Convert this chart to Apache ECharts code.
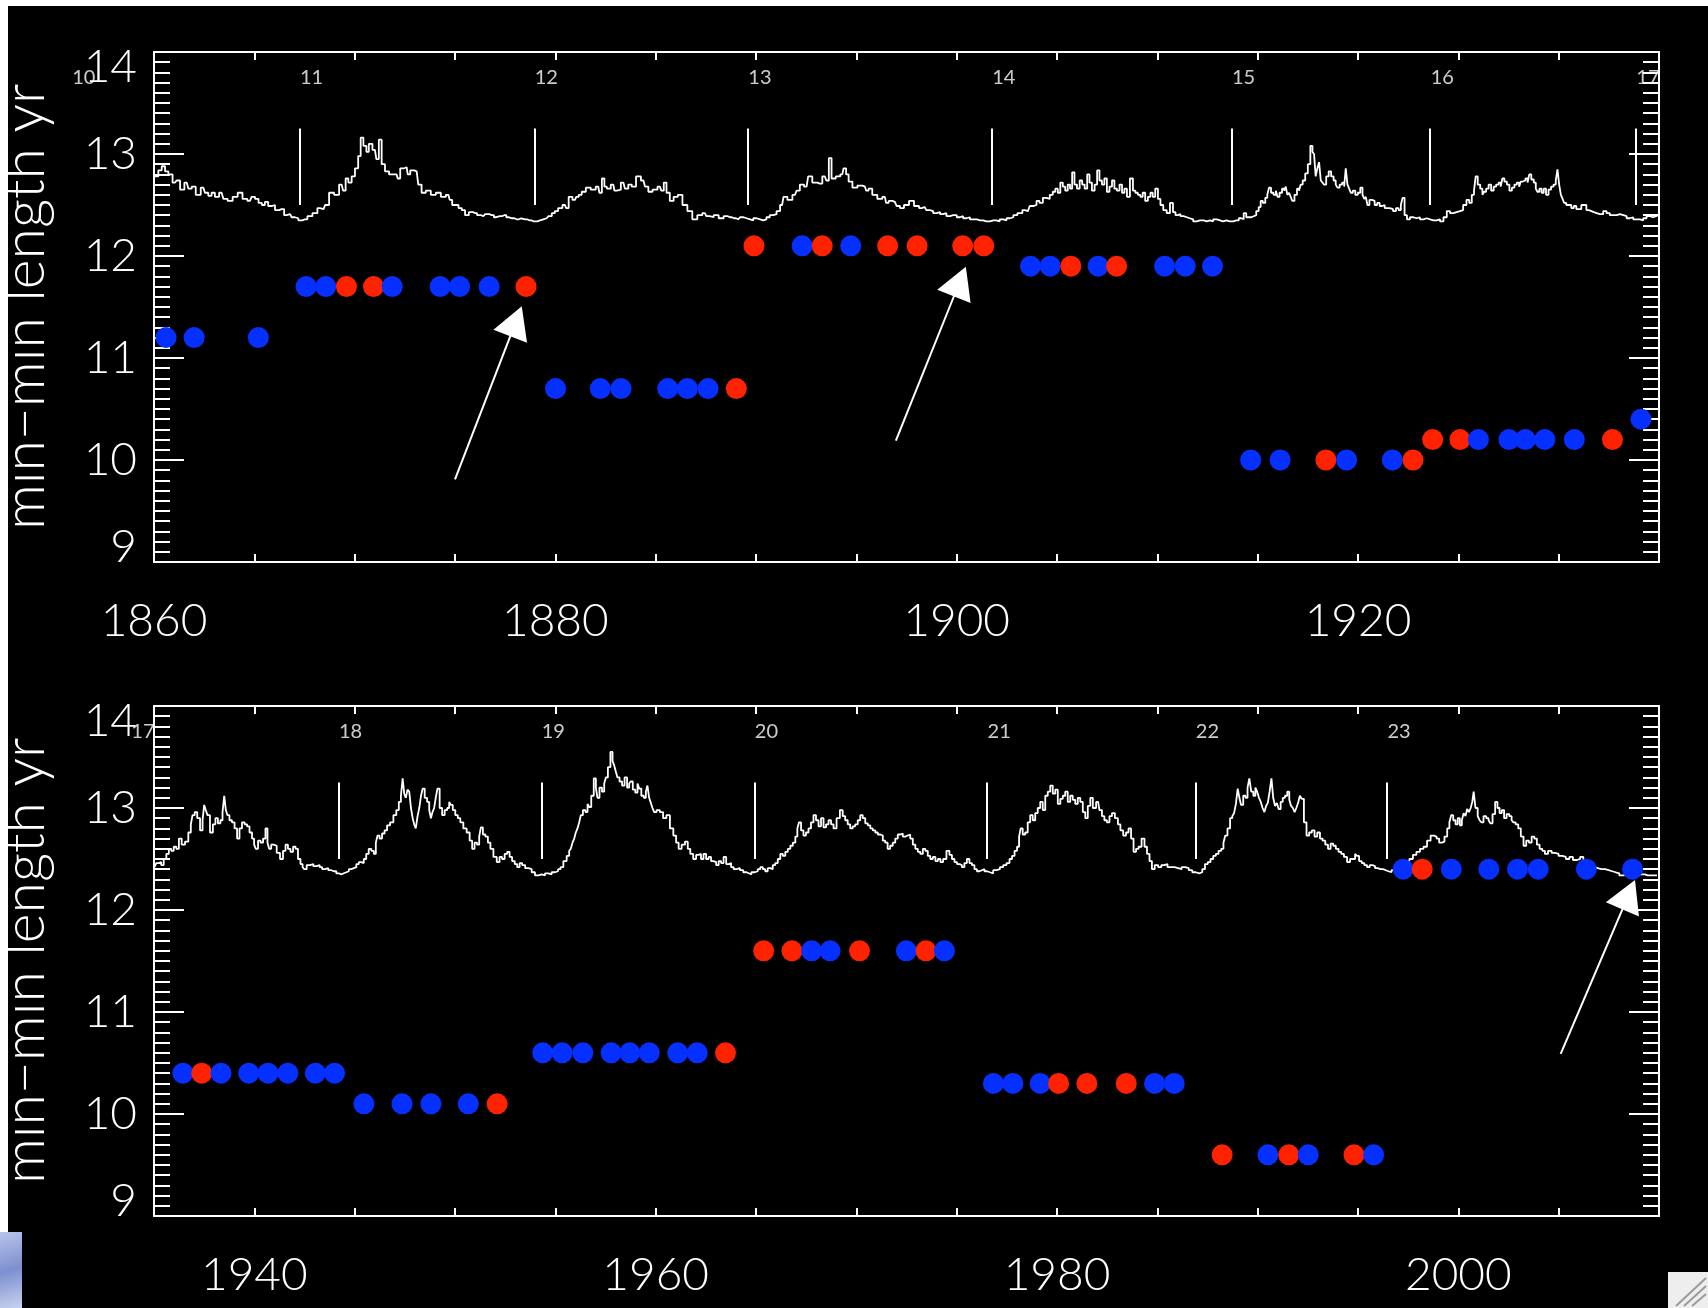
<!DOCTYPE html>
<html>
<head>
<meta charset="utf-8">
<script src="https://cdn.jsdelivr.net/npm/echarts@6/dist/echarts.min.js"></script>
<style>
  html, body { margin: 0; padding: 0; background: #000; }
  #chart { width: 1708px; height: 1308px; }
</style>
</head>
<body>
<div id="chart"></div>
<script>
// ---------------- data ----------------
// solar cycle numbers and the year each cycle began (minimum)
const cycleNumbers = [10, 11, 12, 13, 14, 15, 16, 17, 18, 19, 20, 21, 22, 23];
const cycleStarts  = [1855.9, 1867.25, 1878.95, 1889.6, 1901.75, 1913.7, 1923.6,
                      1933.85, 1944.2, 1954.3, 1964.92, 1976.52, 1986.9, 1996.45];

// tick labels of the two time axes
const yearLabelsEarly = [1860, 1880, 1900, 1920];
const yearLabelsLate  = [1940, 1960, 1980, 2000];
const lengthLabels    = [9, 10, 11, 12, 13, 14];

// activity trace, 1860-1935 [year, value]
const curveEarly = [
[1860.0,12.8],[1860.13,12.78],[1860.3,12.84],[1860.47,12.88],[1860.63,12.83],[1860.8,12.8],[1861.05,12.72],[1861.2,12.74],[1861.4,12.65],[1861.63,12.72],[1861.8,12.66],[1861.96,12.68],[1862.2,12.6],[1862.46,12.67],[1862.62,12.62],[1862.79,12.59],[1862.95,12.62],[1863.12,12.58],[1863.37,12.62],[1863.55,12.56],[1863.79,12.54],[1864.05,12.58],[1864.29,12.62],[1864.53,12.56],[1864.78,12.54],[1864.95,12.58],[1865.12,12.56],[1865.3,12.52],[1865.45,12.5],[1865.6,12.53],[1865.78,12.49],[1865.95,12.5],[1866.11,12.45],[1866.36,12.46],[1866.61,12.4],[1866.78,12.41],[1866.94,12.38],[1867.1,12.37],[1867.28,12.35],[1867.52,12.36],[1867.77,12.39],[1868.02,12.42],[1868.27,12.47],[1868.45,12.46],[1868.6,12.5],[1868.85,12.62],[1869.1,12.6],[1869.35,12.7],[1869.5,12.64],[1869.6,12.76],[1869.77,12.72],[1869.93,12.78],[1870.1,12.86],[1870.25,12.98],[1870.35,13.16],[1870.52,13.08],[1870.65,13.02],[1870.76,13.1],[1871.01,13.04],[1871.15,12.95],[1871.26,13.14],[1871.43,12.9],[1871.59,12.83],[1871.84,12.8],[1872.09,12.8],[1872.2,12.76],[1872.34,12.86],[1872.59,12.87],[1872.7,12.8],[1872.84,12.84],[1873.09,12.83],[1873.25,12.7],[1873.42,12.62],[1873.67,12.64],[1873.92,12.6],[1874.17,12.62],[1874.42,12.58],[1874.67,12.6],[1874.8,12.55],[1874.92,12.5],[1875.1,12.5],[1875.25,12.47],[1875.42,12.45],[1875.58,12.4],[1875.8,12.43],[1876.0,12.42],[1876.2,12.4],[1876.41,12.39],[1876.6,12.41],[1876.83,12.4],[1877.05,12.38],[1877.24,12.39],[1877.45,12.4],[1877.66,12.38],[1877.85,12.37],[1878.07,12.36],[1878.3,12.37],[1878.49,12.36],[1878.7,12.35],[1878.9,12.34],[1879.1,12.34],[1879.24,12.35],[1879.4,12.36],[1879.57,12.37],[1879.75,12.39],[1879.9,12.42],[1880.05,12.44],[1880.23,12.47],[1880.48,12.5],[1880.6,12.47],[1880.73,12.58],[1880.98,12.55],[1881.1,12.58],[1881.23,12.6],[1881.4,12.63],[1881.64,12.67],[1881.89,12.65],[1882.14,12.68],[1882.25,12.62],[1882.39,12.76],[1882.5,12.68],[1882.64,12.66],[1882.89,12.7],[1883.0,12.64],[1883.14,12.65],[1883.39,12.72],[1883.55,12.66],[1883.72,12.7],[1883.9,12.68],[1884.14,12.78],[1884.39,12.74],[1884.55,12.68],[1884.72,12.63],[1884.97,12.65],
[1885.21,12.68],[1885.35,12.64],[1885.46,12.72],[1885.62,12.62],[1885.79,12.54],[1886.0,12.58],[1886.21,12.6],[1886.46,12.5],[1886.7,12.44],[1886.95,12.36],[1887.2,12.4],[1887.45,12.42],[1887.6,12.39],[1887.78,12.38],[1888.0,12.4],[1888.28,12.37],[1888.5,12.39],[1888.7,12.38],[1888.9,12.37],[1889.11,12.36],[1889.3,12.38],[1889.45,12.37],[1889.62,12.36],[1889.78,12.35],[1889.95,12.37],[1890.11,12.36],[1890.3,12.35],[1890.44,12.36],[1890.6,12.38],[1890.77,12.4],[1890.95,12.41],[1891.1,12.44],[1891.3,12.5],[1891.44,12.58],[1891.69,12.55],[1891.94,12.6],[1892.1,12.64],[1892.27,12.7],[1892.52,12.68],[1892.68,12.78],[1892.93,12.72],[1893.18,12.71],[1893.43,12.78],[1893.58,12.74],[1893.68,12.96],[1893.85,12.76],[1894.1,12.78],[1894.3,12.8],[1894.43,12.86],[1894.55,12.8],[1894.68,12.73],[1894.93,12.67],[1895.18,12.69],[1895.43,12.68],[1895.55,12.64],[1895.67,12.66],[1895.92,12.6],[1896.17,12.56],[1896.42,12.58],[1896.55,12.52],[1896.67,12.54],[1896.92,12.53],[1897.1,12.49],[1897.25,12.47],[1897.5,12.5],[1897.75,12.54],[1898.0,12.49],[1898.25,12.47],[1898.4,12.48],[1898.58,12.45],[1898.75,12.44],[1898.91,12.42],[1899.1,12.43],[1899.25,12.41],[1899.4,12.42],[1899.58,12.39],[1899.75,12.4],[1899.91,12.4],[1900.1,12.38],[1900.24,12.39],[1900.4,12.37],[1900.57,12.38],[1900.75,12.36],[1900.91,12.36],[1901.1,12.35],[1901.24,12.35],[1901.4,12.34],[1901.57,12.34],[1901.75,12.35],[1901.9,12.35],[1902.05,12.34],[1902.24,12.36],[1902.4,12.35],[1902.57,12.37],[1902.75,12.38],[1902.9,12.4],[1903.15,12.42],[1903.4,12.45],[1903.55,12.44],[1903.73,12.49],[1903.9,12.5],[1904.06,12.54],[1904.2,12.52],[1904.39,12.57],[1904.55,12.56],[1904.73,12.6],[1904.85,12.63],[1904.98,12.66],[1905.1,12.62],[1905.23,12.72],[1905.35,12.68],[1905.47,12.64],[1905.6,12.7],[1905.7,12.66],[1905.81,12.82],[1905.93,12.7],[1906.06,12.66],[1906.2,12.74],[1906.31,12.7],[1906.45,12.66],[1906.56,12.8],[1906.68,12.72],[1906.8,12.64],[1906.95,12.7],[1907.05,12.84],[1907.18,12.74],[1907.3,12.7],[1907.42,12.76],[1907.55,12.63],[1907.68,12.68],[1907.8,12.74],[1907.92,12.66],[1908.05,12.64],[1908.18,12.7],[1908.3,12.62],[1908.42,12.66],[1908.55,12.58],[1908.72,12.76],[1908.85,12.64],[1908.96,12.62],[1909.1,12.6],[1909.21,12.58],[1909.33,12.62],[1909.46,12.54],[1909.6,12.58],[1909.71,12.62],[1909.83,12.58],[1909.96,12.66],[1910.1,12.56],[1910.21,12.5],
[1910.38,12.45],[1910.55,12.42],[1910.71,12.52],[1910.85,12.43],[1910.96,12.4],[1911.1,12.41],[1911.21,12.39],[1911.4,12.38],[1911.54,12.37],[1911.7,12.36],[1911.87,12.34],[1912.05,12.35],[1912.21,12.35],[1912.4,12.34],[1912.54,12.35],[1912.7,12.34],[1912.87,12.36],[1913.05,12.35],[1913.2,12.34],[1913.35,12.35],[1913.53,12.34],[1913.7,12.34],[1913.87,12.35],[1914.0,12.35],[1914.12,12.37],[1914.25,12.36],[1914.36,12.42],[1914.5,12.38],[1914.61,12.38],[1914.75,12.39],[1914.86,12.4],[1915.0,12.44],[1915.1,12.48],[1915.2,12.54],[1915.32,12.52],[1915.44,12.57],[1915.52,12.6],[1915.61,12.67],[1915.72,12.62],[1915.86,12.6],[1915.95,12.64],[1916.03,12.58],[1916.15,12.62],[1916.28,12.66],[1916.36,12.64],[1916.44,12.68],[1916.52,12.6],[1916.61,12.62],[1916.68,12.58],[1916.77,12.54],[1916.9,12.6],[1917.02,12.66],[1917.1,12.64],[1917.19,12.7],[1917.3,12.74],[1917.44,12.81],[1917.56,12.9],[1917.69,13.08],[1917.77,13.02],[1917.85,13.0],[1917.93,12.78],[1918.02,12.86],[1918.1,12.92],[1918.19,12.74],[1918.27,12.72],[1918.35,12.7],[1918.48,12.78],[1918.6,12.83],[1918.72,12.78],[1918.85,12.74],[1918.93,12.7],[1919.02,12.67],[1919.15,12.7],[1919.27,12.72],[1919.35,12.68],[1919.43,12.86],[1919.52,12.7],[1919.6,12.66],[1919.68,12.62],[1919.8,12.64],[1919.93,12.6],[1920.05,12.62],[1920.18,12.67],[1920.27,12.6],[1920.35,12.56],[1920.43,12.58],[1920.51,12.5],[1920.63,12.55],[1920.76,12.54],[1920.9,12.5],[1921.01,12.52],[1921.15,12.49],[1921.26,12.5],[1921.4,12.47],[1921.51,12.47],[1921.65,12.46],[1921.84,12.44],[1921.95,12.47],[1922.09,12.45],[1922.18,12.5],[1922.26,12.57],[1922.38,12.4],[1922.5,12.36],[1922.68,12.38],[1922.84,12.37],[1923.0,12.38],[1923.17,12.36],[1923.35,12.37],[1923.5,12.36],[1923.68,12.35],[1923.83,12.35],[1924.0,12.36],[1924.17,12.34],[1924.35,12.38],[1924.5,12.44],[1924.67,12.42],[1924.83,12.43],[1925.0,12.44],[1925.16,12.45],[1925.32,12.5],[1925.49,12.55],[1925.6,12.52],[1925.74,12.6],[1925.82,12.64],[1925.91,12.78],[1926.02,12.7],[1926.16,12.66],[1926.24,12.6],[1926.32,12.63],[1926.45,12.66],[1926.57,12.7],[1926.7,12.64],[1926.82,12.68],[1926.95,12.7],[1927.07,12.72],[1927.15,12.68],[1927.24,12.76],[1927.35,12.73],[1927.49,12.7],[1927.6,12.64],[1927.74,12.67],[1927.85,12.7],[1927.99,12.72],[1928.07,12.68],[1928.15,12.73],[1928.28,12.74],[1928.4,12.76],[1928.5,12.72],[1928.57,12.8],[1928.7,12.75],[1928.82,12.72],[1928.9,12.66],[1928.98,12.63],[1929.1,12.66],[1929.2,12.62],[1929.31,12.66],[1929.43,12.6],[1929.56,12.65],[1929.68,12.68],[1929.81,12.7],[1929.9,12.74],[1929.98,12.85],[1930.07,12.7],[1930.15,12.6],[1930.24,12.56],[1930.31,12.52],[1930.45,12.5],[1930.56,12.5],[1930.7,12.47],[1930.81,12.49],[1930.95,12.46],[1931.06,12.46],[1931.2,12.5],[1931.31,12.5],[1931.45,12.45],[1931.56,12.44],[1931.7,12.43],[1931.81,12.42],[1931.98,12.41],[1932.14,12.41],[1932.3,12.44],[1932.47,12.42],[1932.63,12.4],[1932.8,12.4],[1932.97,12.41],[1933.14,12.4],[1933.3,12.39],[1933.47,12.37],[1933.63,12.38],[1933.8,12.36],[1933.97,12.36],[1934.13,12.35],[1934.3,12.37],[1934.46,12.39],[1934.62,12.38],[1934.79,12.39],[1934.9,12.4],[1935.04,12.4]
];

// activity trace, 1935-2010 [year, value]
const curveLate = [
[1935.0,12.44],[1935.05,12.42],[1935.18,12.46],[1935.3,12.47],[1935.42,12.44],[1935.55,12.5],[1935.68,12.55],[1935.8,12.6],[1935.92,12.58],[1936.05,12.62],[1936.18,12.6],[1936.3,12.7],[1936.46,12.64],[1936.63,12.67],[1936.79,12.76],[1936.88,12.84],[1936.96,12.93],[1937.1,12.96],[1937.21,12.9],[1937.38,12.78],[1937.46,12.88],[1937.54,13.03],[1937.62,12.98],[1937.71,12.93],[1937.87,12.76],[1938.0,12.84],[1938.12,12.9],[1938.25,12.85],[1938.37,12.88],[1938.46,12.96],[1938.54,13.12],[1938.62,12.98],[1938.7,12.93],[1938.82,12.88],[1938.95,12.86],[1939.08,12.8],[1939.2,12.7],[1939.32,12.8],[1939.45,12.86],[1939.58,12.84],[1939.7,12.82],[1939.82,12.76],[1939.95,12.7],[1940.03,12.64],[1940.12,12.6],[1940.25,12.68],[1940.37,12.66],[1940.5,12.7],[1940.61,12.8],[1940.7,12.66],[1940.78,12.6],[1940.9,12.64],[1941.03,12.63],[1941.2,12.56],[1941.36,12.5],[1941.5,12.58],[1941.61,12.64],[1941.74,12.6],[1941.86,12.57],[1942.0,12.62],[1942.11,12.6],[1942.24,12.5],[1942.36,12.45],[1942.45,12.42],[1942.52,12.4],[1942.7,12.44],[1942.86,12.45],[1943.02,12.43],[1943.19,12.44],[1943.32,12.42],[1943.44,12.4],[1943.6,12.41],[1943.77,12.39],[1943.9,12.38],[1944.02,12.38],[1944.15,12.36],[1944.27,12.35],[1944.4,12.36],[1944.52,12.37],[1944.65,12.38],[1944.77,12.4],[1944.9,12.41],[1945.02,12.42],[1945.15,12.45],[1945.27,12.47],[1945.4,12.46],[1945.51,12.5],[1945.64,12.55],[1945.76,12.6],[1945.9,12.58],[1946.01,12.55],[1946.1,12.66],[1946.18,12.73],[1946.3,12.7],[1946.43,12.75],[1946.55,12.78],[1946.68,12.83],[1946.85,12.86],[1947.01,12.93],[1947.14,12.98],[1947.26,13.06],[1947.35,13.12],[1947.43,13.29],[1947.51,13.14],[1947.59,13.1],[1947.68,13.18],[1947.76,13.16],[1947.85,13.0],[1947.93,12.9],[1948.0,12.84],[1948.09,12.8],[1948.18,12.92],[1948.26,13.0],[1948.35,13.12],[1948.43,13.19],[1948.55,13.1],[1948.67,13.06],[1948.76,12.98],[1948.84,12.9],[1948.92,12.96],[1949.0,13.0],[1949.08,13.1],[1949.17,13.19],[1949.3,13.0],[1949.42,12.93],[1949.55,12.98],[1949.67,13.0],[1949.75,13.06],[1949.83,13.03],[1949.95,12.98],[1950.08,12.93],[1950.2,12.9],[1950.33,12.86],[1950.5,12.8],[1950.66,12.76],[1950.8,12.68],[1950.91,12.6],[1951.04,12.66],[1951.16,12.64],[1951.25,12.72],[1951.33,12.81],[1951.45,12.74],[1951.58,12.72],[1951.7,12.66],[1951.83,12.6],[1952.0,12.52],[1952.16,12.47],[1952.28,12.52],[1952.41,12.5],[1952.54,12.55],[1952.66,12.57],[1952.78,12.52],[1952.91,12.48],[1953.04,12.45],[1953.16,12.42],[1953.28,12.46],[1953.41,12.44],[1953.58,12.41],[1953.74,12.4],[1953.9,12.37],[1954.07,12.34],[1954.24,12.35],[1954.4,12.34],[1954.57,12.36],[1954.73,12.35],[1954.9,12.37],[1955.07,12.38],[1955.2,12.4],[1955.32,12.42],[1955.48,12.48],[1955.65,12.53],[1955.73,12.58],[1955.81,12.6],[1955.9,12.66],[1955.98,12.7],[1956.06,12.76],[1956.15,12.8],[1956.23,12.86],[1956.31,12.93],[1956.44,12.98],[1956.56,12.96],[1956.65,13.04],[1956.73,13.01],[1956.85,13.12],[1956.98,13.29],[1957.06,13.2],[1957.14,13.1],[1957.26,13.2],[1957.39,13.16],[1957.48,13.24],[1957.56,13.3],[1957.68,13.4],[1957.81,13.55],[1957.89,13.46],[1957.97,13.42],[1958.05,13.36],[1958.14,13.3],[1958.26,13.26],[1958.39,13.22],[1958.51,13.3],[1958.64,13.2],[1958.72,13.24],[1958.8,13.26],[1958.92,13.18],[1959.05,13.15],[1959.14,13.24],[1959.22,13.19],[1959.35,13.12],[1959.47,13.1],[1959.55,13.16],[1959.63,13.22],[1959.72,13.1],[1959.8,13.05],[1959.88,13.0],[1959.97,12.96],
[1960.12,12.98],[1960.29,12.96],[1960.45,12.9],[1960.62,12.93],[1960.8,12.8],[1960.96,12.73],[1961.08,12.66],[1961.21,12.6],[1961.38,12.64],[1961.54,12.67],[1961.66,12.6],[1961.79,12.55],[1961.95,12.5],[1962.08,12.54],[1962.2,12.55],[1962.32,12.5],[1962.45,12.55],[1962.58,12.5],[1962.7,12.52],[1962.82,12.48],[1962.95,12.47],[1963.08,12.44],[1963.2,12.48],[1963.32,12.46],[1963.45,12.52],[1963.58,12.45],[1963.7,12.46],[1963.82,12.42],[1963.95,12.4],[1964.12,12.41],[1964.28,12.39],[1964.45,12.37],[1964.6,12.36],[1964.69,12.35],[1964.85,12.37],[1965.03,12.38],[1965.15,12.4],[1965.28,12.42],[1965.4,12.4],[1965.52,12.38],[1965.65,12.41],[1965.77,12.4],[1965.9,12.44],[1966.02,12.46],[1966.15,12.5],[1966.27,12.55],[1966.4,12.53],[1966.52,12.57],[1966.65,12.6],[1966.77,12.63],[1966.9,12.66],[1967.02,12.72],[1967.1,12.8],[1967.19,12.86],[1967.3,12.78],[1967.43,12.73],[1967.55,12.76],[1967.68,12.8],[1967.8,12.86],[1967.93,12.93],[1968.05,12.88],[1968.18,12.82],[1968.3,12.9],[1968.43,12.81],[1968.55,12.84],[1968.68,12.88],[1968.8,12.84],[1968.93,12.8],[1969.1,12.9],[1969.26,12.98],[1969.38,12.92],[1969.51,12.88],[1969.63,12.84],[1969.76,12.8],[1969.88,12.82],[1970.01,12.84],[1970.13,12.88],[1970.26,12.93],[1970.38,12.9],[1970.51,12.85],[1970.63,12.83],[1970.76,12.8],[1970.88,12.78],[1971.01,12.76],[1971.13,12.74],[1971.26,12.73],[1971.38,12.68],[1971.5,12.66],[1971.62,12.6],[1971.75,12.63],[1971.88,12.66],[1972.0,12.7],[1972.13,12.74],[1972.25,12.75],[1972.38,12.72],[1972.5,12.73],[1972.62,12.74],[1972.75,12.7],[1972.88,12.64],[1973.0,12.6],[1973.13,12.57],[1973.25,12.55],[1973.38,12.6],[1973.5,12.58],[1973.62,12.53],[1973.75,12.5],[1973.88,12.52],[1974.0,12.48],[1974.13,12.5],[1974.25,12.47],[1974.4,12.5],[1974.58,12.58],[1974.7,12.54],[1974.83,12.5],[1974.95,12.47],[1975.08,12.45],[1975.2,12.44],[1975.32,12.42],[1975.45,12.46],[1975.57,12.5],[1975.7,12.46],[1975.82,12.44],[1975.95,12.4],[1976.07,12.38],[1976.2,12.39],[1976.32,12.4],[1976.45,12.38],[1976.57,12.37],[1976.74,12.36],[1976.9,12.39],[1977.07,12.4],[1977.24,12.42],[1977.4,12.44],[1977.57,12.46],[1977.7,12.5],[1977.82,12.53],[1977.95,12.58],[1978.07,12.62],[1978.15,12.72],[1978.23,12.8],[1978.35,12.74],[1978.48,12.76],[1978.6,12.86],[1978.73,12.93],[1978.85,12.88],[1978.98,12.95],[1979.1,13.0],[1979.23,13.06],[1979.35,12.98],[1979.48,13.12],[1979.6,13.16],[1979.73,13.22],[1979.85,13.14],[1979.98,13.18],[1980.1,13.04],[1980.23,13.09],[1980.35,13.12],[1980.47,13.16],[1980.6,13.06],[1980.72,13.12],[1980.85,13.08],[1980.97,13.04],[1981.1,13.1],[1981.22,13.06],[1981.35,12.96],[1981.47,12.9],[1981.6,13.02],[1981.72,13.1],[1981.85,13.0],[1982.05,13.06],[1982.18,12.98],[1982.3,12.92],[1982.42,12.88],[1982.55,12.86],[1982.68,12.92],[1982.8,12.95],[1982.97,12.9],[1983.1,12.84],[1983.22,12.78],[1983.38,12.73],[1983.5,12.76],[1983.63,12.8],[1983.75,12.7],[1983.88,12.57],[1984.0,12.6],[1984.13,12.62],[1984.3,12.7],[1984.42,12.62],[1984.55,12.55],[1984.67,12.48],[1984.79,12.4],[1984.95,12.44],[1985.13,12.42],
[1985.27,12.44],[1985.41,12.45],[1985.6,12.42],[1985.77,12.42],[1985.95,12.41],[1986.12,12.4],[1986.3,12.42],[1986.48,12.41],[1986.65,12.39],[1986.83,12.37],[1987.0,12.36],[1987.18,12.37],[1987.3,12.4],[1987.45,12.45],[1987.58,12.47],[1987.72,12.5],[1987.85,12.53],[1987.98,12.55],[1988.12,12.58],[1988.25,12.6],[1988.34,12.66],[1988.43,12.73],[1988.56,12.8],[1988.69,12.9],[1988.78,12.92],[1988.87,12.95],[1988.96,13.04],[1989.05,13.19],[1989.13,13.1],[1989.22,13.03],[1989.34,13.12],[1989.45,13.1],[1989.54,13.2],[1989.63,13.29],[1989.73,13.16],[1989.84,13.12],[1989.93,13.2],[1990.02,13.16],[1990.11,13.1],[1990.2,13.06],[1990.29,13.0],[1990.38,12.96],[1990.46,13.02],[1990.55,13.05],[1990.64,13.16],[1990.73,13.29],[1990.82,13.1],[1990.91,13.02],[1991.0,13.05],[1991.09,12.99],[1991.2,13.06],[1991.3,13.1],[1991.42,13.12],[1991.53,13.16],[1991.62,13.08],[1991.71,13.02],[1991.8,13.0],[1991.88,12.96],[1991.97,13.0],[1992.06,13.05],[1992.15,13.12],[1992.24,13.09],[1992.37,12.86],[1992.5,12.73],[1992.63,12.76],[1992.77,12.78],[1992.9,12.72],[1993.04,12.76],[1993.17,12.7],[1993.3,12.68],[1993.44,12.64],[1993.57,12.6],[1993.7,12.65],[1993.83,12.63],[1993.96,12.6],[1994.1,12.57],[1994.23,12.55],[1994.37,12.52],[1994.54,12.47],[1994.67,12.5],[1994.81,12.5],[1994.9,12.55],[1994.99,12.53],[1995.12,12.48],[1995.25,12.46],[1995.38,12.44],[1995.52,12.42],[1995.65,12.44],[1995.78,12.43],[1995.92,12.41],[1996.05,12.4],[1996.18,12.4],[1996.32,12.39],[1996.45,12.38],[1996.58,12.37],[1996.76,12.39],[1996.94,12.41],[1997.1,12.44],[1997.29,12.47],[1997.47,12.48],[1997.65,12.5],[1997.82,12.54],[1998.0,12.57],[1998.18,12.6],[1998.35,12.62],[1998.53,12.68],[1998.71,12.73],[1998.85,12.72],[1998.98,12.7],[1999.11,12.66],[1999.24,12.67],[1999.38,12.72],[1999.51,12.8],[1999.6,12.86],[1999.69,12.93],[1999.8,12.88],[1999.92,12.84],[2000.02,12.9],[2000.13,12.83],[2000.22,12.88],[2000.31,12.95],[2000.4,12.92],[2000.48,12.99],[2000.57,12.96],[2000.66,13.0],[2000.73,13.06],[2000.8,13.16],[2000.91,13.0],[2001.02,12.92],[2001.1,12.88],[2001.19,12.86],[2001.32,12.92],[2001.46,12.9],[2001.55,12.88],[2001.64,12.85],[2001.77,12.94],[2001.9,13.06],[2002.0,13.0],[2002.11,12.95],[2002.22,12.98],[2002.34,12.9],[2002.47,12.94],[2002.61,12.92],[2002.7,12.88],[2002.79,12.86],[2002.92,12.84],[2003.05,12.8],[2003.18,12.72],[2003.32,12.63],[2003.45,12.68],[2003.59,12.66],[2003.72,12.72],[2003.85,12.7],[2003.98,12.64],[2004.12,12.6],[2004.25,12.58],[2004.38,12.55],[2004.56,12.58],[2004.74,12.56],[2004.9,12.55],[2005.09,12.53],[2005.27,12.52],[2005.45,12.5],[2005.62,12.52],[2005.8,12.49],[2005.98,12.5],[2006.16,12.52],[2006.3,12.48],[2006.42,12.46],[2006.55,12.44],[2006.69,12.42],[2006.86,12.41],[2007.04,12.4],[2007.22,12.4],[2007.4,12.39],[2007.58,12.38],[2007.75,12.37],[2007.93,12.36],[2008.11,12.34],[2008.38,12.35],[2008.64,12.34],[2008.9,12.35],[2009.17,12.35],[2009.43,12.34],[2009.7,12.34],[2009.9,12.34]
];

// min-min cycle lengths (yr) marked through each cycle [year, length]
const blueDots = [
[1860.6,11.2],[1862.0,11.2],[1865.2,11.2],
[1867.58,11.7],[1868.56,11.7],[1871.87,11.7],[1874.26,11.7],[1875.23,11.7],[1876.7,11.7],
[1880.01,10.7],[1882.24,10.7],[1883.27,10.7],[1885.6,10.7],[1886.58,10.7],[1887.61,10.7],
[1892.3,12.1],[1894.72,12.1],
[1903.68,11.9],[1904.66,11.9],[1907.05,11.9],[1910.36,11.9],[1911.39,11.9],[1912.75,11.9],
[1914.65,10.0],[1916.12,10.0],[1919.43,10.0],[1921.71,10.0],
[1926.0,10.2],[1927.52,10.2],[1928.34,10.2],[1929.31,10.2],[1930.78,10.2],
[1934.1,10.4],
[1936.44,10.4],[1938.34,10.4],[1939.72,10.4],[1940.68,10.4],[1941.67,10.4],[1943.04,10.4],[1944.0,10.4],
[1945.46,10.1],[1947.36,10.1],[1948.8,10.1],[1950.66,10.1],
[1954.37,10.6],[1955.34,10.6],[1956.37,10.6],[1957.78,10.6],[1958.71,10.6],[1959.68,10.6],[1961.1,10.6],[1962.07,10.6],
[1967.77,11.6],[1968.69,11.6],[1972.49,11.6],[1974.39,11.6],
[1976.83,10.3],[1977.8,10.3],[1979.16,10.3],[1984.86,10.3],[1985.84,10.3],
[1990.51,9.6],[1992.52,9.6],[1995.78,9.6],
[1997.25,12.4],[1999.65,12.4],[2001.52,12.4],[2002.95,12.4],[2003.98,12.4],[2006.38,12.4],[2008.68,12.4]
];
const redDots = [
[1869.59,11.7],[1870.94,11.7],[1878.54,11.7],
[1889.02,10.7],
[1889.9,12.1],[1893.3,12.1],[1896.56,12.1],[1898.03,12.1],[1900.3,12.1],[1901.35,12.1],
[1905.69,11.9],[1907.97,11.9],
[1918.4,10.0],[1922.74,10.0],
[1923.72,10.2],[1925.08,10.2],[1932.68,10.2],
[1937.38,10.4],
[1952.1,10.1],
[1963.48,10.6],
[1965.38,11.6],[1966.79,11.6],[1970.16,11.6],[1973.47,11.6],
[1980.08,10.3],[1981.49,10.3],[1983.45,10.3],
[1988.23,9.6],[1991.55,9.6],[1994.8,9.6],
[1998.2,12.4]
];

// pointer arrows [tail, head] in [year, length]
const arrows = [
  [[1875.0, 9.81], [1878.04, 11.36]],
  [[1896.97, 10.19], [1900.16, 11.75]],
  [[2005.1, 10.59], [2008.49, 12.15]]
];

// ---------------- drawing ----------------
const RED = '#ff2200';
const BLUE = '#0530ff';
const WHITE = '#ffffff';
const FONT = 'Lato';

const panels = [
  { range: [1860, 1935], top: 52, curve: curveEarly, labels: yearLabelsEarly },
  { range: [1935, 2010], top: 706, curve: curveLate, labels: yearLabelsLate }
];

// all dots in time order so later marks sit on top
const allDots = blueDots.map(p => ({ p, c: BLUE }))
  .concat(redDots.map(p => ({ p, c: RED })))
  .sort((a, b) => a.p[0] - b.p[0]);

const grids = [], xAxes = [], yAxes = [], series = [];

panels.forEach((pan, i) => {
  const [x0, x1] = pan.range;
  grids.push({ left: 154, top: pan.top, width: 1505, height: 510, containLabel: false, outerBoundsMode: 'none' });

  const xBase = {
    gridIndex: i, type: 'value', min: x0, max: x1, interval: 5,
    axisLine: { show: true, onZero: false, lineStyle: { color: WHITE, width: 2 } },
    axisTick: { show: true, inside: true, length: 8, lineStyle: { color: WHITE, width: 2 } },
    splitLine: { show: false }
  };
  xAxes.push(Object.assign({}, xBase, {
    position: 'bottom',
    axisLabel: {
      show: true, color: WHITE, fontFamily: FONT, fontWeight: 300, fontSize: 46, margin: 36,
      formatter: v => pan.labels.includes(v) ? String(v) : ''
    }
  }));
  xAxes.push(Object.assign({}, xBase, { position: 'top', axisLabel: { show: false } }));

  const yBase = {
    gridIndex: i, type: 'value', min: 9, max: 14, interval: 1,
    axisLine: { show: true, onZero: false, lineStyle: { color: WHITE, width: 2 } },
    axisTick: { show: true, inside: true, length: 30, lineStyle: { color: WHITE, width: 2 } },
    minorTick: { show: true, splitNumber: 10, length: 16, lineStyle: { color: WHITE, width: 2 } },
    splitLine: { show: false }
  };
  yAxes.push(Object.assign({}, yBase, {
    position: 'left',
    name: 'min\u2212min length yr',
    nameLocation: 'middle',
    nameGap: 100,
    nameTextStyle: { color: WHITE, fontFamily: FONT, fontWeight: 300, fontSize: 57 },
    axisLabel: {
      show: true, color: WHITE, fontFamily: FONT, fontWeight: 300, fontSize: 46, margin: 17,
      lineHeight: 30,
      verticalAlignMinLabel: 'bottom', verticalAlignMaxLabel: 'top',
      formatter: v => lengthLabels.includes(v) ? String(v) : ''
    }
  }));
  yAxes.push(Object.assign({}, yBase, { position: 'right', axisLabel: { show: false } }));

  const xi = i * 2, yi = i * 2;

  // activity trace
  series.push({
    type: 'line', xAxisIndex: xi, yAxisIndex: yi,
    data: pan.curve, showSymbol: false, step: 'middle',
    lineStyle: { color: WHITE, width: 1.8 }, z: 3, silent: true
  });

  // cycle-length dots
  series.push({
    type: 'scatter', xAxisIndex: xi, yAxisIndex: yi,
    symbol: 'circle', symbolSize: 21, z: 4, silent: true,
    itemStyle: { opacity: 1 },
    data: allDots.filter(d => d.p[0] >= x0 && d.p[0] <= x1)
      .map(d => ({ value: d.p, itemStyle: { color: d.c, opacity: 1 } }))
  });

  // cycle numbers and cycle-start markers
  const cyc = [];
  cycleNumbers.forEach((n, k) => {
    const s = cycleStarts[k];
    if (s >= x0 - 5 && s < x1) cyc.push({ name: String(n), value: [s, 13.75] });
  });
  series.push({
    type: 'scatter', xAxisIndex: xi, yAxisIndex: yi, clip: false, silent: true,
    symbolSize: 1, itemStyle: { color: 'rgba(0,0,0,0)' }, z: 5,
    data: cyc,
    label: {
      show: true, position: 'inside', offset: [12, 0], formatter: '{b}',
      color: WHITE, fontFamily: FONT, fontWeight: 400, fontSize: 20
    },
    markLine: {
      silent: true, animation: false, symbol: ['none', 'none'],
      label: { show: false },
      lineStyle: { type: 'solid', color: WHITE, width: 2 },
      data: cyc.filter(c => c.value[0] >= x0 && c.value[0] <= x1)
        .map(c => [{ coord: [c.value[0], 12.5] }, { coord: [c.value[0], 13.25] }])
    }
  });

  // pointer arrows
  series.push({
    type: 'scatter', xAxisIndex: xi, yAxisIndex: yi, data: [], silent: true,
    markLine: {
      silent: true, animation: false,
      symbol: ['none', 'triangle'], symbolSize: [36, 32],
      label: { show: false },
      lineStyle: { type: 'solid', color: WHITE, width: 2, opacity: 1 },
      itemStyle: { color: WHITE },
      data: arrows.filter(a => a[0][0] >= x0 && a[0][0] <= x1)
        .map(a => [{ coord: a[0] }, { coord: a[1] }])
    }
  });
});

const chart = echarts.init(document.getElementById('chart'), null, { renderer: 'canvas' });
chart.setOption({
  backgroundColor: '#000',
  animation: false,
  grid: grids,
  xAxis: xAxes,
  yAxis: yAxes,
  series: series,
  graphic: [
    { type: 'rect', shape: { x: 0, y: 0, width: 1708, height: 6 }, style: { fill: '#fff' }, silent: true },
    { type: 'rect', shape: { x: 0, y: 0, width: 8, height: 1232 }, style: { fill: '#fff' }, silent: true },
    { type: 'rect', shape: { x: 0, y: 1232, width: 22, height: 76 }, silent: true,
      style: { fill: new echarts.graphic.LinearGradient(0, 0, 1, 1, [
        { offset: 0, color: '#b8c4ea' }, { offset: 0.5, color: '#7d8fcf' }, { offset: 1, color: '#c9d2f0' }]) } },
    { type: 'rect', shape: { x: 1668, y: 1272, width: 40, height: 36 }, style: { fill: '#eeeeee' }, silent: true },
    { type: 'line', shape: { x1: 1676, y1: 1306, x2: 1706, y2: 1278 }, style: { stroke: '#9a9a9a', lineWidth: 2 }, silent: true },
    { type: 'line', shape: { x1: 1684, y1: 1306, x2: 1706, y2: 1286 }, style: { stroke: '#9a9a9a', lineWidth: 2 }, silent: true },
    { type: 'line', shape: { x1: 1692, y1: 1306, x2: 1706, y2: 1294 }, style: { stroke: '#9a9a9a', lineWidth: 2 }, silent: true }
  ]
});
</script>
</body>
</html>
